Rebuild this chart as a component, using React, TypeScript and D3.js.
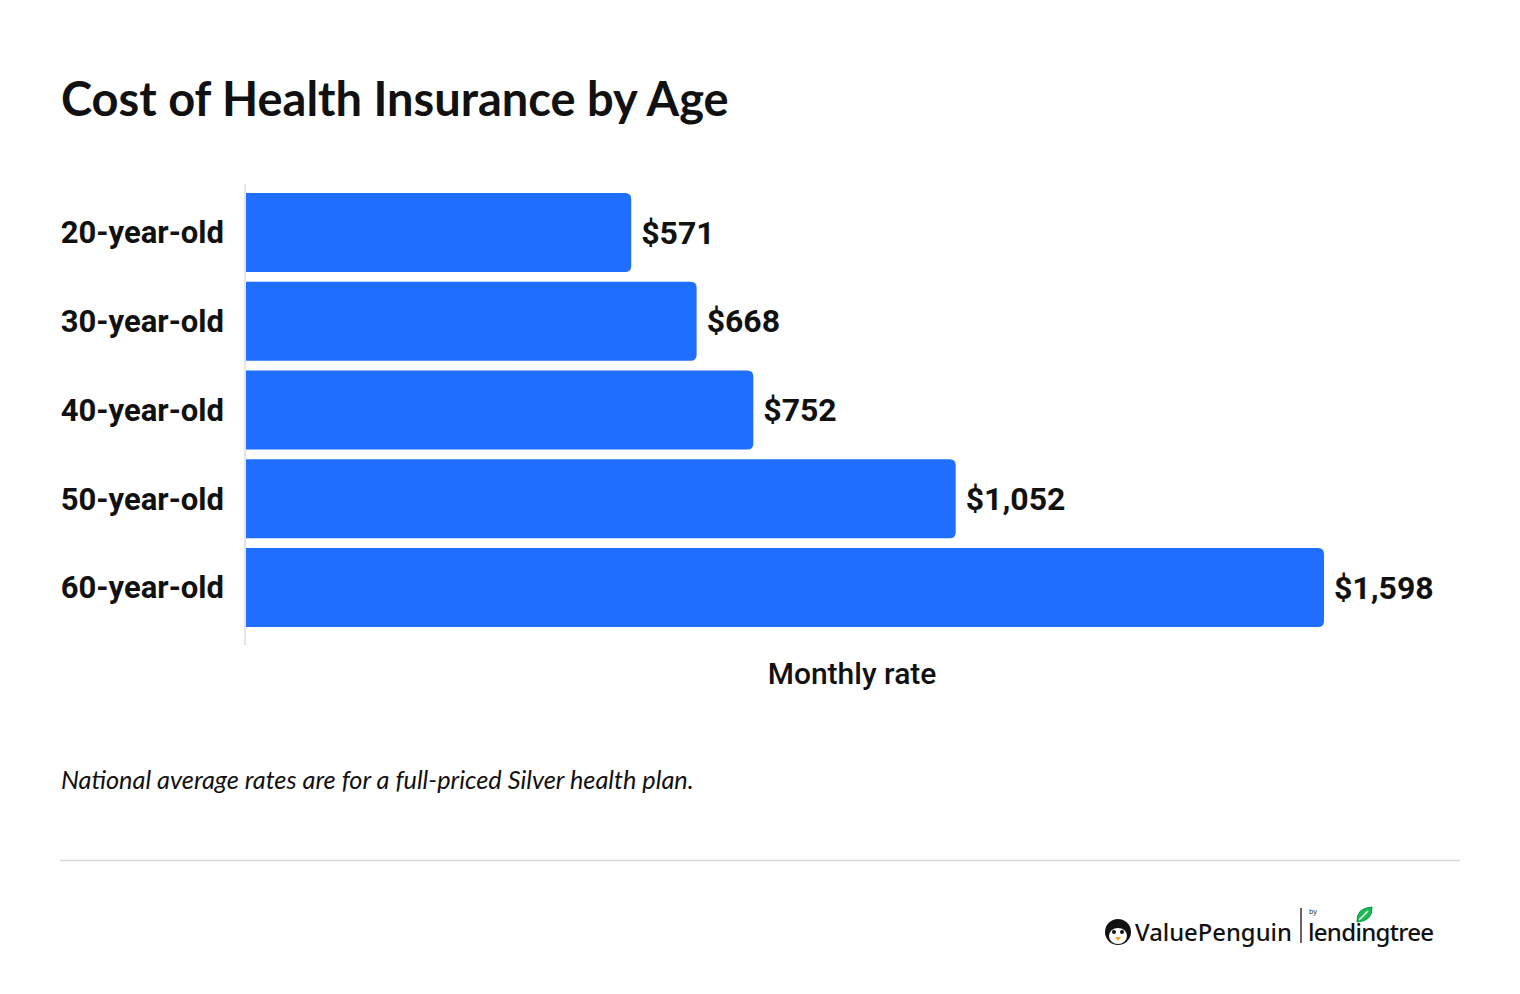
import * as d3 from 'd3';

const categories = ['20-year-old', '30-year-old', '40-year-old', '50-year-old', '60-year-old'];
const monthlyRates = [571, 668, 752, 1052, 1598];

const width = 1520;
const height = 994;
const barColor = '#1f6eff';

const App = (): React.ReactElement => {
  const xScale = d3.scaleLinear().domain([0, 1598]).range([246, 1324]);
  const yScale = d3
    .scaleBand<string>()
    .domain(categories)
    .range([193, 627])
    .paddingInner(0.11)
    .paddingOuter(0);

  const fmt = d3.format('$,');
  const x0 = xScale(0);
  const r = 6;

  // bar path with rounded right corners only
  const barPath = (x1: number, y: number, h: number) =>
    `M${x0},${y}H${x1 - r}Q${x1},${y} ${x1},${y + r}V${y + h - r}Q${x1},${y + h} ${x1 - r},${y + h}H${x0}Z`;

  return (
    <div style={{ position: 'absolute', left: 0, top: 0 }}>
      <svg width={width} height={height} style={{ display: 'block', background: '#fff' }}>
        <text x={61} y={116} fontFamily="Lato" fontWeight={700} fontSize={47} fill="#111">
          Cost of Health Insurance by Age
        </text>

        <line x1={245} x2={245} y1={184} y2={645} stroke="#ddd" strokeWidth={1.5} />

        {categories.map((c, i) => {
          const y = yScale(c) ?? 0;
          const h = yScale.bandwidth();
          const x1 = xScale(monthlyRates[i]);
          return (
            <g key={c}>
              <path d={barPath(x1, y, h)} fill={barColor} />
              <text
                x={224}
                y={y + h / 2}
                dy="0.35em"
                textAnchor="end"
                fontFamily="Roboto"
                fontWeight={700}
                fontSize={31}
                fill="#111"
              >
                {c}
              </text>
              <text
                x={x1 + 10}
                y={y + h / 2}
                dy="0.35em"
                fontFamily="Roboto"
                fontWeight={700}
                fontSize={32}
                fill="#111"
              >
                {fmt(monthlyRates[i])}
              </text>
            </g>
          );
        })}

        <text x={852} y={684} textAnchor="middle" fontFamily="Roboto" fontWeight={500} fontSize={30} fill="#111">
          Monthly rate
        </text>

        <text x={61} y={789} fontFamily="Lato" fontStyle="italic" fontSize={25.3} fill="#111">
          National average rates are for a full-priced Silver health plan.
        </text>

        <line x1={60} x2={1460} y1={860.5} y2={860.5} stroke="#d8d8d8" strokeWidth={1.5} />

        {/* logo */}
        <g>
          <circle cx={1118} cy={932} r={13} fill="#111" />
          <ellipse cx={1118} cy={936} rx={9} ry={8} fill="#fff" />
          <circle cx={1114} cy={932} r={2} fill="#111" />
          <circle cx={1122} cy={932} r={2} fill="#111" />
          <path d="M1115,937 L1121,937 L1118,941 Z" fill="#f5a623" />
          <text x={1135} y={941} fontFamily="Noto Sans" fontWeight={500} fontSize={23.8} fill="#111">
            ValuePenguin
          </text>
          <line x1={1301} x2={1301} y1={908} y2={943} stroke="#333" strokeWidth={1.5} />
          <text x={1309} y={914} fontFamily="Noto Sans" fontSize={7} fill="#333">
            by
          </text>
          <text x={1308} y={941} fontFamily="Noto Sans" fontWeight={500} fontSize={24} fill="#111" letterSpacing={-0.7}>
            lendingtree
          </text>
          <path d="M1357,922 Q1356,908 1372,907 Q1373,921 1357,922 Z" fill="#1db954" stroke="#0a9c47" strokeWidth={1} />
          <path d="M1359,920 L1368,911" stroke="#fff" strokeWidth={1.5} />
        </g>
      </svg>
    </div>
  );
};

export default App;
